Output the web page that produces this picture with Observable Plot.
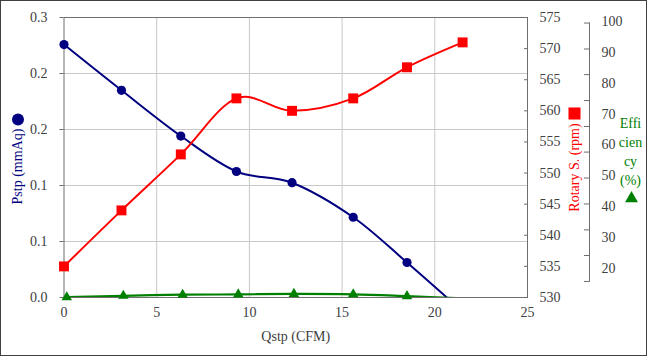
<!DOCTYPE html>
<html><head><meta charset="utf-8">
<script src="https://cdn.jsdelivr.net/npm/d3@7"></script>
<script src="https://cdn.jsdelivr.net/npm/@observablehq/plot@0.6"></script>
<style>
html,body{margin:0;padding:0;background:#fff;}
#wrap{position:relative;width:647px;height:356px;}
#border{position:absolute;left:0;top:0;width:647px;height:356px;box-sizing:border-box;border:1px solid #404040;pointer-events:none;}
#chart svg, #chart svg g, #chart svg text{font-family:'Liberation Serif','Times New Roman',serif !important;font-variant:normal !important;}
</style></head><body>
<div id="wrap"><div id="chart"></div><div id="border"></div></div>
<script>
// ---- data ----
const qstp = [0, 3.1, 6.3, 9.3, 12.3, 15.6, 18.5, 21.5];
const pstp = [0.271, 0.222, 0.173, 0.135, 0.123, 0.086, 0.0375, -0.015];
const rotaryRpm = [535, 544, 553, 562, 560, 562, 567, 571];
const effQ = [0.15, 3.2, 6.4, 9.4, 12.4, 15.6, 18.5, 21.5];
const efficiencyPct = [0.1, 0.6, 1.0, 1.1, 1.3, 1.15, 0.5, -0.3];

// ---- tick labels ----
const xTicks = [0, 5, 10, 15, 20, 25];
const pTicks = [0, 0.06, 0.12, 0.18, 0.24, 0.3];
const rpmTicks = [530, 535, 540, 545, 550, 555, 560, 565, 570, 575];
const effLabels = [20, 30, 40, 50, 60, 70, 80, 90, 100];
const effBracketTicks = [15.8, 24.2, 32.5, 40.9, 49.3, 57.7, 66.0, 74.4, 82.8, 91.1, 99.5];

// ---- secondary-axis mappings onto the primary y scale ----
const P_MAX = 0.3;
const rpmToY = r => (r - 530) / 45 * P_MAX;
const effDataToY = e => e / 100 * P_MAX;
const EFF_LO = 0.0311, EFF_SPAN = 0.2646;
const effAxisToY = e => EFF_LO + (e - 20) / 80 * EFF_SPAN;

const rows = qstp.map((q, i) => ({q, p: pstp[i], rpm: rotaryRpm[i]}));
const effRows = effQ.map((q, i) => ({q, eff: efficiencyPct[i]}));

const NAVY = "#000080", RED = "#ff0000", GREEN = "#008000";
const AXIS = "#6e6e6e", TXT = "#404040", GRID = "#c8c8c8";
const FONT = "'Liberation Serif', 'Times New Roman', serif";
const txt = {fill: TXT, fontFamily: FONT, fontSize: 14, fontVariant: "normal", label: null};

const chart = Plot.plot({
  width: 647, height: 356,
  marginLeft: 63.5, marginRight: 120, marginTop: 17, marginBottom: 59,
  x: {domain: [0, 25]},
  y: {domain: [0, P_MAX]},
  style: {fontFamily: FONT, fontSize: "14px", color: TXT, background: "transparent"},
  marks: [
    Plot.gridX(xTicks.slice(1, -1), {stroke: GRID, strokeOpacity: 1}),
    Plot.gridY(pTicks.slice(1, -1), {stroke: GRID, strokeOpacity: 1}),
    Plot.frame({stroke: AXIS}),
    // bottom axis
    Plot.axisX(xTicks, {tickSize: 0, tickPadding: 10, tickFormat: d => d, ...txt}),
    // left axis
    Plot.axisY(pTicks, {anchor: "left", tickSize: 4, tickPadding: 12.5, tickFormat: d3.format(".1f"), stroke: AXIS, ...txt}),
    // rotary axis (right)
    Plot.axisY(rpmTicks.map(rpmToY), {anchor: "right", tickSize: 0, tickPadding: 12, tickFormat: d => Math.round(530 + d / P_MAX * 45), ...txt}),
    Plot.axisY(rpmTicks.map(rpmToY), {anchor: "right", tickSize: -4, fill: "none", label: null, stroke: AXIS}),
    // efficiency axis (far right)
    Plot.ruleX([25], {y1: effAxisToY(effBracketTicks[0]), y2: effAxisToY(effBracketTicks[effBracketTicks.length - 1]), dx: 62, stroke: AXIS}),
    Plot.axisY(effBracketTicks.map(effAxisToY), {anchor: "right", dx: 62, tickSize: -6, fill: "none", label: null, stroke: AXIS}),
    Plot.axisY(effLabels.map(effAxisToY), {anchor: "right", dx: 62, tickSize: 0, tickPadding: 12, tickFormat: d => Math.round(20 + (d - EFF_LO) / EFF_SPAN * 80), ...txt}),
    // series
    Plot.line(rows, {x: "q", y: "p", stroke: NAVY, strokeWidth: 2, curve: "cardinal", clip: true}),
    Plot.dot(rows.filter(d => d.p >= 0), {x: "q", y: "p", r: 4.6, fill: NAVY, symbol: "circle"}),
    Plot.line(rows, {x: "q", y: d => rpmToY(d.rpm), stroke: RED, strokeWidth: 2, curve: "cardinal"}),
    Plot.dot(rows, {x: "q", y: d => rpmToY(d.rpm), r: 5.6, fill: RED, symbol: "square"}),
    Plot.line(effRows, {x: "q", y: d => effDataToY(d.eff), stroke: GREEN, strokeWidth: 2.2, curve: "cardinal", clip: true}),
    Plot.dot(effRows.filter(d => d.eff >= 0), {x: "q", y: d => effDataToY(d.eff), r: 3.9, fill: GREEN, symbol: "triangle"}),
    // titles
    Plot.text(["Qstp (CFM)"], {text: d => d, frameAnchor: "bottom", dy: 43, textAnchor: "middle", fill: TXT, fontSize: 14, fontFamily: FONT}),
    Plot.text(["Pstp (mmAq)"], {text: d => d, frameAnchor: "left", dx: -46, dy: 9, rotate: -90, textAnchor: "middle", fill: NAVY, fontSize: 14, fontFamily: FONT}),
    Plot.dot([0], {frameAnchor: "left", dx: -46, dy: -38, r: 6, fill: NAVY, symbol: "circle"}),
    Plot.text(["Rotary S. (rpm)"], {text: d => d, frameAnchor: "right", dx: 47, dy: 10, rotate: -90, textAnchor: "middle", fill: RED, fontSize: 14, fontFamily: FONT}),
    Plot.dot([0], {frameAnchor: "right", dx: 47, dy: -44, r: 6.8, fill: RED, symbol: "square"}),
    Plot.text(["Effi\ncien\ncy\n(%)"], {text: d => d, frameAnchor: "right", dx: 103, dy: -7.5, lineHeight: 1.36, textAnchor: "middle", fill: GREEN, fontSize: 14, fontFamily: FONT}),
    Plot.dot([0], {frameAnchor: "right", dx: 104, dy: 41, r: 4.8, fill: GREEN, symbol: "triangle"})
  ]
});
document.getElementById("chart").appendChild(chart);
</script>
</body></html>
